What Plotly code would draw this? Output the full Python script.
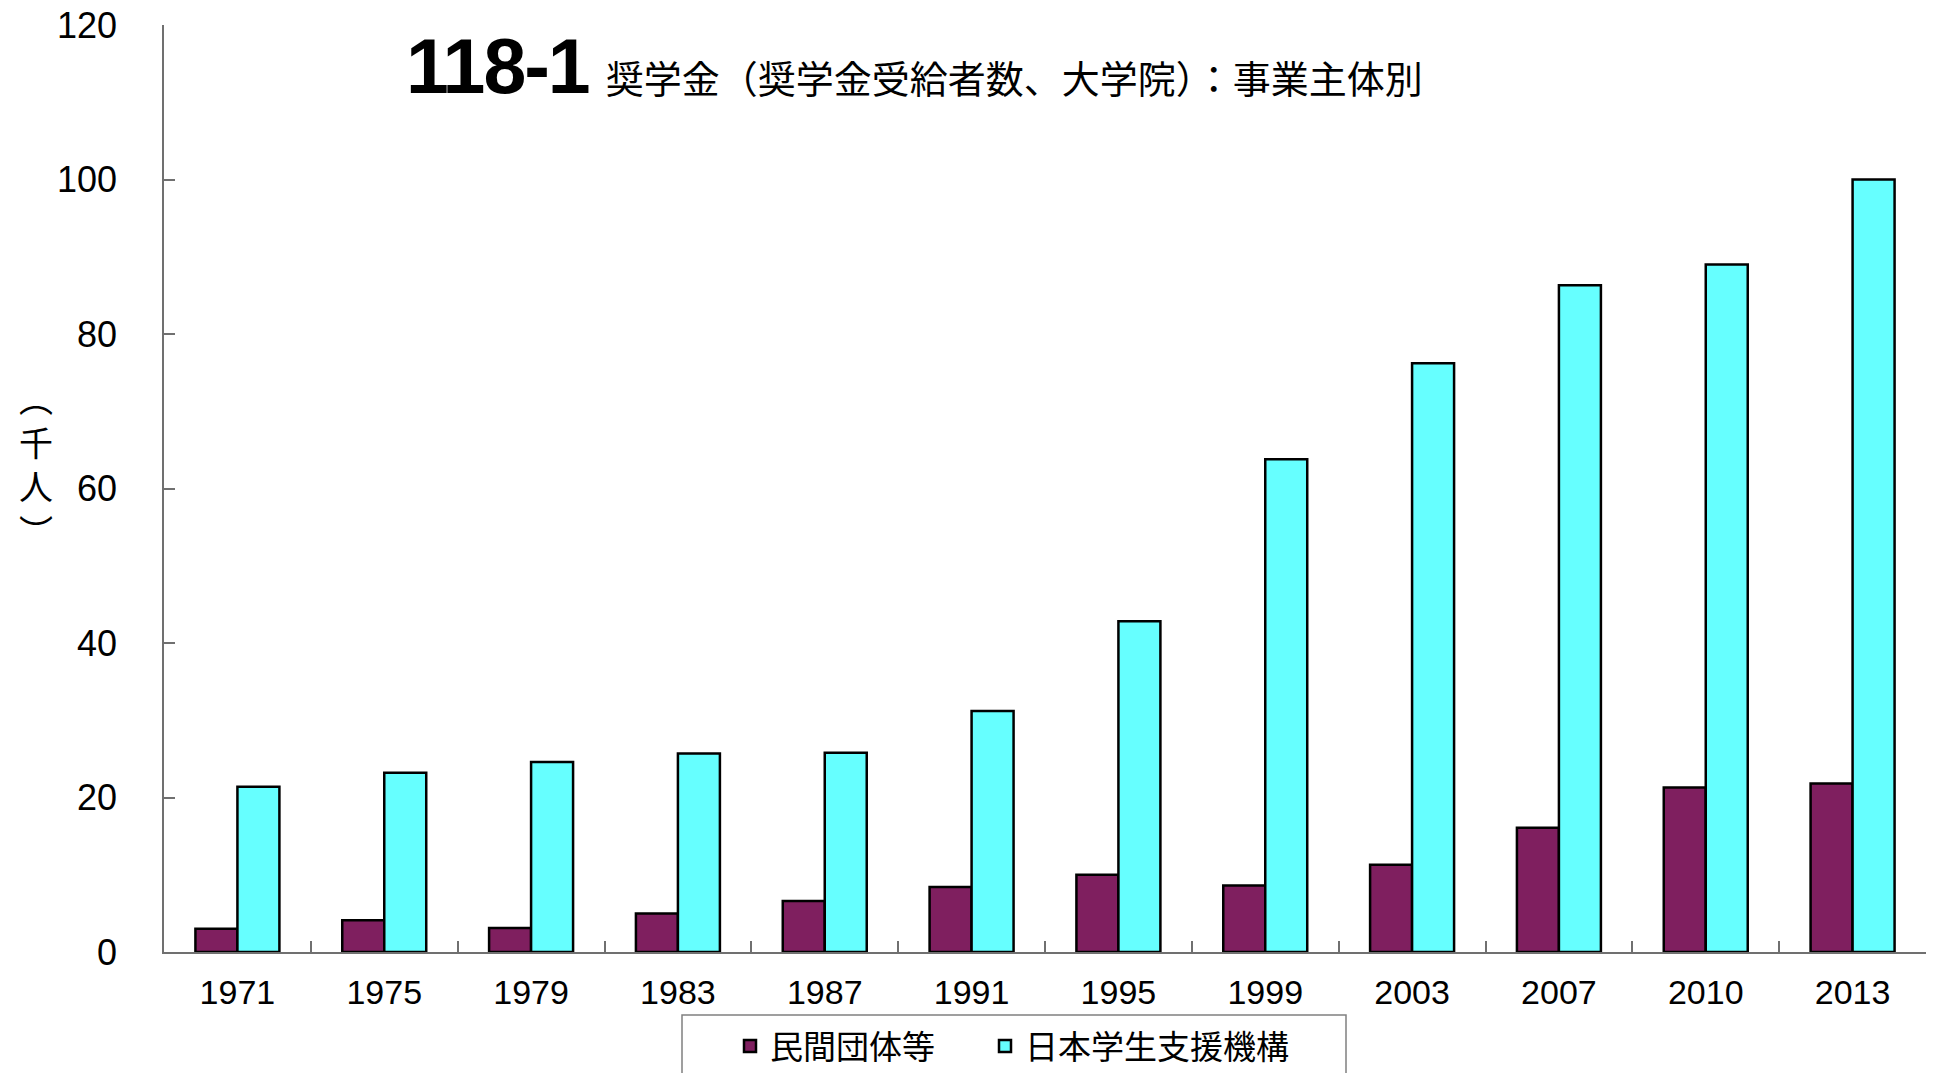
import plotly.graph_objects as go

years = ["1971", "1975", "1979", "1983", "1987", "1991", "1995", "1999", "2003", "2007", "2010", "2013"]
private_orgs = [3.0, 4.1, 3.1, 5.0, 6.6, 8.4, 10.0, 8.6, 11.3, 16.1, 21.3, 21.8]
jasso = [21.4, 23.2, 24.6, 25.7, 25.8, 31.2, 42.8, 63.8, 76.2, 86.3, 89.0, 100.0]
series_names = ["民間団体等", "日本学生支援機構"]
y_ticks = [0, 20, 40, 60, 80, 100, 120]

W, H = 1936, 1073
L, R, T, B = 164, 10, 25, 121
PW = W - L - R
PH = H - T - B

def px_x(p):
    return (p - L) / PW

def px_y(p):
    return (H - B - p) / PH

SANS = "Liberation Sans, Arial, sans-serif"
CJK = "Noto Sans CJK JP, sans-serif"

fig = go.Figure()
fig.add_trace(go.Bar(x=years, y=private_orgs, name=series_names[0], legendwidth=210,
                     marker=dict(color="#7F1F5F", line=dict(color="black", width=2.5))))
fig.add_trace(go.Bar(x=years, y=jasso, name=series_names[1], legendwidth=300,
                     marker=dict(color="#66FFFF", line=dict(color="black", width=2.5))))

fig.update_layout(
    width=W, height=H,
    margin=dict(l=L, r=R, t=T, b=B, pad=0, autoexpand=False),
    paper_bgcolor="white", plot_bgcolor="white",
    barmode="group", bargap=0.428, bargroupgap=0,
    showlegend=True,
    legend=dict(orientation="h", xref="container", yref="container",
                x=730 / W, xanchor="left",
                y=1 - 1018 / H, yanchor="top",
                font=dict(family=CJK, size=33, color="black"),
                borderwidth=0, bgcolor="rgba(0,0,0,0)"),
    xaxis=dict(type="category", showline=True, linecolor="#707070", linewidth=1.5,
               ticks="inside", tickson="boundaries", ticklen=11, tickwidth=1.5,
               tickcolor="#707070", showgrid=False, zeroline=False, automargin=False,
               tickfont=dict(family=SANS, size=34, color="black"),
               ticklabelstandoff=9),
    yaxis=dict(range=[0, 120], tickvals=y_ticks, ticktext=[str(v) for v in y_ticks],
               showline=True, linecolor="#707070", linewidth=1.5,
               ticks="inside", ticklen=11, tickwidth=1.5, tickcolor="#707070",
               showgrid=False, zeroline=False, automargin=False,
               tickfont=dict(family=SANS, size=36, color="black"),
               ticklabelstandoff=38),
    shapes=[dict(type="rect", xref="paper", yref="paper",
                 x0=px_x(682), x1=px_x(1346), y0=px_y(1015), y1=px_y(1100),
                 line=dict(color="#808080", width=1.5), fillcolor="rgba(0,0,0,0)")],
    annotations=[
        dict(xref="paper", yref="paper", x=px_x(404), y=px_y(111), xanchor="left", yanchor="bottom",
             showarrow=False, align="left",
             text="<span style=\"font-size:77px;font-weight:bold;letter-spacing:-2px;font-family:'Liberation Sans',Arial\">118-1</span>  奨学金（奨学金受給者数、大学院）：事業主体別",
             font=dict(family=CJK, size=38, color="black")),
        dict(xref="paper", yref="paper", x=px_x(36), y=px_y(464), xanchor="center", yanchor="middle",
             showarrow=False, text="︵<br>千<br>人<br>︶",
             font=dict(family=CJK, size=34, color="black")),
    ],
)

fig.write_html("out.html", config={"displayModeBar": False},
               post_script="document.body.style.margin='0';document.body.style.overflow='hidden';")
